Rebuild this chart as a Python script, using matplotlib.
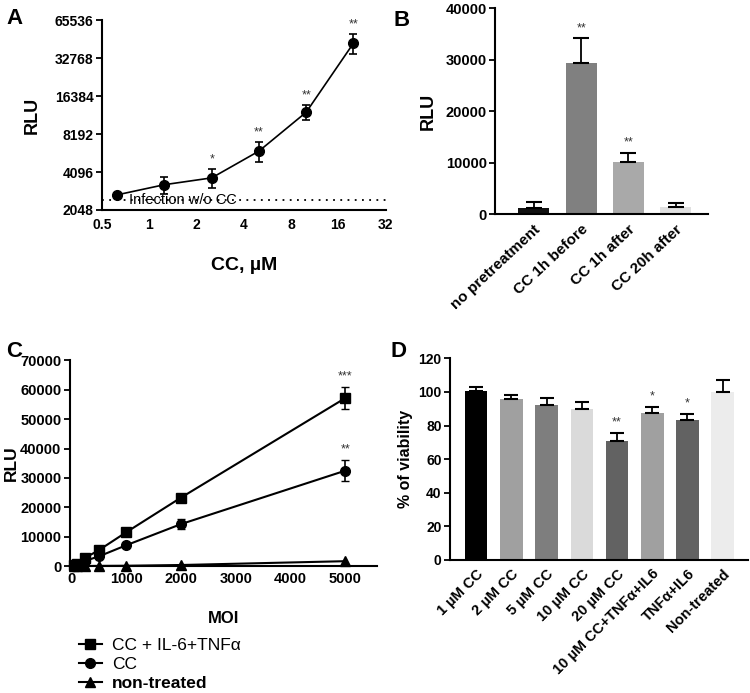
import numpy as np
import matplotlib
matplotlib.use('Agg')
import matplotlib.pyplot as plt
from matplotlib.ticker import FixedLocator, NullLocator

plt.rcParams['font.family'] = ['Liberation Sans', 'DejaVu Sans']
plt.rcParams['font.weight'] = 'bold'
plt.rcParams['axes.labelweight'] = 'bold'

# panel A: luciferase vs CC dose
a_dose = [0.625, 1.25, 2.5, 5, 10, 20]
a_rlu = [2700, 3250, 3680, 6000, 12200, 43000]
a_err = [0, 520, 620, 1050, 1600, 7500]
a_stars = ['', '', '*', '**', '**', '**']
a_baseline = 2460
a_xticks = [0.5, 1, 2, 4, 8, 16, 32]
a_yticks = [2048, 4096, 8192, 16384, 32768, 65536]

# panel B: pretreatment timing
b_labels = ['no pretreatment', 'CC 1h before', 'CC 1h after', 'CC 20h after']
b_rlu = [1150, 29400, 10200, 1350]
b_err = [1200, 4800, 1700, 750]
b_stars = ['', '**', '**', '']
b_colors = ['#111111', '#808080', '#a9a9a9', '#e0e0e0']

# panel C: RLU vs MOI
c_moi = [50, 100, 250, 500, 1000, 2000, 5000]
c_combo = [300, 900, 2800, 5400, 11500, 23300, 57200]
c_combo_err = [0, 0, 0, 0, 600, 800, 3700]
c_cc = [150, 500, 1800, 3300, 7100, 14300, 32500]
c_cc_err = [0, 0, 0, 0, 400, 1800, 3500]
c_none = [0, 0, 50, 100, 150, 400, 1700]
c_names = ['CC + IL-6+TNFα', 'CC', 'non-treated']

# panel D: viability
d_labels = ['1 µM CC', '2 µM CC', '5 µM CC', '10 µM CC', '20 µM CC',
            '10 µM CC+TNFα+IL6', 'TNFα+IL6', 'Non-treated']
d_viab = [100.5, 96, 92, 90, 71, 87.5, 83.5, 100]
d_err = [2.5, 2, 4.5, 4, 4.5, 3.5, 3.5, 7]
d_stars = ['', '', '', '', '**', '*', '*', '']
d_colors = ['#000000', '#a0a0a0', '#7e7e7e', '#dadada', '#626262',
            '#a0a0a0', '#626262', '#ececec']

fig = plt.figure(figsize=(7.5, 6.93), dpi=100)


def style(ax, size=10):
    ax.spines['top'].set_visible(False)
    ax.spines['right'].set_visible(False)
    ax.spines['left'].set_linewidth(1.5)
    ax.spines['bottom'].set_linewidth(1.5)
    ax.tick_params(direction='out', length=4, width=1.3, labelsize=size, pad=2)


def bold_ticks(ax):
    for t in ax.get_xticklabels() + ax.get_yticklabels():
        t.set_fontweight('bold')


# ---- A
ax = fig.add_axes([0.136, 0.697, 0.378, 0.274])
style(ax)
ax.set_xscale('log', base=2)
ax.set_yscale('log', base=2)
ax.set_xlim(0.5, 32)
ax.set_ylim(2048, 65536)
ax.xaxis.set_major_locator(FixedLocator(a_xticks))
ax.yaxis.set_major_locator(FixedLocator(a_yticks))
ax.xaxis.set_minor_locator(NullLocator())
ax.yaxis.set_minor_locator(NullLocator())
ax.set_xticklabels([str(v) for v in a_xticks])
ax.set_yticklabels([str(v) for v in a_yticks])
ax.tick_params(axis='x', length=0, pad=6)
ax.axhline(a_baseline, color='black', lw=1.3, ls=(0, (1, 3)))
ax.text(0.74, a_baseline, 'Infection w/o CC', fontsize=10.5, fontweight='normal',
        va='center', ha='left')
ax.errorbar(a_dose, a_rlu, yerr=a_err, color='black', marker='o', ms=7,
            lw=1.2, capsize=3, elinewidth=1.2, capthick=1.2, clip_on=False)
for x, y, e, s in zip(a_dose, a_rlu, a_err, a_stars):
    if s:
        ax.text(x, (y + e) * 1.08, s, ha='center', va='bottom', fontsize=9,
                fontweight='normal', color='#333333')
ax.set_ylabel('RLU', fontsize=13, fontweight='bold', labelpad=10)
ax.set_xlabel('CC, µM', fontsize=14, fontweight='bold', labelpad=18)
bold_ticks(ax)
fig.text(0.008, 0.965, 'A', fontsize=16, fontweight='bold')

# ---- B
ax = fig.add_axes([0.66, 0.691, 0.284, 0.297])
style(ax, 10.5)
bx = np.arange(len(b_labels))
ax.bar(bx, b_rlu, width=0.66, color=b_colors)
ax.errorbar(bx, b_rlu, yerr=[np.zeros(4), b_err], fmt='none', ecolor='black',
            elinewidth=1.3, capsize=6, capthick=1.5)
for x, y, e, s in zip(bx, b_rlu, b_err, b_stars):
    if s:
        ax.text(x, y + e + 800, s, ha='center', va='bottom', fontsize=9,
                fontweight='normal', color='#333333')
ax.set_xlim(-0.82, 3.68)
ax.set_ylim(0, 40000)
ax.set_yticks([0, 10000, 20000, 30000, 40000])
ax.set_xticks(bx)
ax.set_xticklabels(b_labels, rotation=43, ha='right', rotation_mode='anchor',
                   fontsize=11)
ax.tick_params(axis='x', length=0, pad=6)
ax.set_ylabel('RLU', fontsize=13, fontweight='bold', labelpad=6)
bold_ticks(ax)
fig.text(0.525, 0.962, 'B', fontsize=16, fontweight='bold')

# ---- C
ax = fig.add_axes([0.093, 0.183, 0.41, 0.297])
style(ax, 10.5)
ax.set_xlim(-27, 5580)
ax.set_ylim(0, 70000)
ax.set_xticks([0, 1000, 2000, 3000, 4000, 5000])
ax.set_yticks(np.arange(0, 70001, 10000))
ax.errorbar(c_moi, c_combo, yerr=c_combo_err, color='black', marker='s',
            ms=7, lw=1.5, capsize=3, elinewidth=1.2, clip_on=False)
ax.errorbar(c_moi, c_cc, yerr=c_cc_err, color='black', marker='o',
            ms=7, lw=1.5, capsize=3, elinewidth=1.2, clip_on=False)
ax.plot(c_moi, c_none, color='black', marker='^', ms=7, lw=1.5, clip_on=False)
ax.text(5000, c_combo[-1] + c_combo_err[-1] + 1500, '***', ha='center',
        va='bottom', fontsize=9, fontweight='normal', color='#333333')
ax.text(5000, c_cc[-1] + c_cc_err[-1] + 1500, '**', ha='center',
        va='bottom', fontsize=9, fontweight='normal', color='#333333')
ax.tick_params(axis='x', length=0, pad=4)
ax.set_ylabel('RLU', fontsize=12.5, fontweight='bold')
ax.yaxis.set_label_coords(-0.165, 0.5)
ax.set_xlabel('MOI', fontsize=12, fontweight='bold', labelpad=18)
bold_ticks(ax)
handles = [plt.Line2D([], [], color='black', marker=m, ms=7, lw=1.5)
           for m in ['s', 'o', '^']]
leg = ax.legend(handles, c_names, loc='upper left',
                bbox_to_anchor=(0.03, -0.35), frameon=False,
                fontsize=12.5, handlelength=1.3, handletextpad=0.6,
                labelspacing=0.2, borderaxespad=0, borderpad=0)
for t, w in zip(leg.get_texts(), ['normal', 'normal', 'bold']):
    t.set_fontweight(w)
fig.text(0.008, 0.485, 'C', fontsize=16, fontweight='bold')

# ---- D
ax = fig.add_axes([0.6, 0.192, 0.397, 0.291])
style(ax)
dx = np.arange(len(d_labels))
ax.bar(dx, d_viab, width=0.64, color=d_colors)
ax.errorbar(dx, d_viab, yerr=[np.zeros(len(dx)), d_err], fmt='none',
            ecolor='black', elinewidth=1.3, capsize=5, capthick=1.5)
for x, y, e, s in zip(dx, d_viab, d_err, d_stars):
    if s:
        ax.text(x, y + e + 2.5, s, ha='center', va='bottom', fontsize=9,
                fontweight='normal', color='#333333')
ax.set_xlim(-0.74, 7.71)
ax.set_ylim(0, 120)
ax.set_yticks(np.arange(0, 121, 20))
ax.set_xticks(dx)
ax.set_xticklabels(d_labels, rotation=45, ha='right', rotation_mode='anchor',
                   fontsize=10.5)
ax.tick_params(axis='x', length=0, pad=5)
ax.set_ylabel('% of viability', fontsize=11.5, fontweight='bold', labelpad=4)
bold_ticks(ax)
fig.text(0.52, 0.485, 'D', fontsize=16, fontweight='bold')

fig.savefig('out.png', dpi=100)
